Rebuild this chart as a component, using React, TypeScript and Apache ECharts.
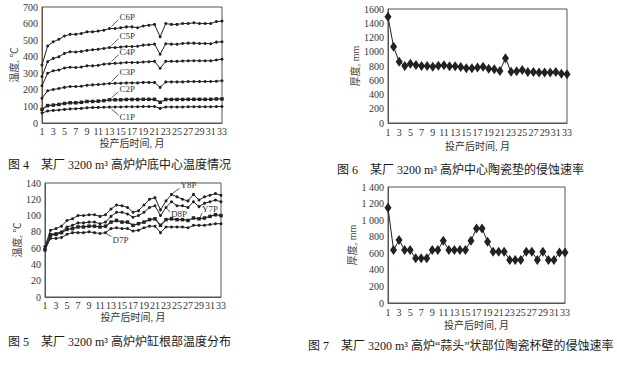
import React, { useEffect, useRef } from "react";
import * as echarts from "echarts";

const months = ["1","2","3","4","5","6","7","8","9","10","11","12","13","14","15","16","17","18","19","20","21","22","23","24","25","26","27","28","29","30","31","32","33"];

// 图4 炉底中心温度 (℃)
const c6p = [350, 465, 490, 505, 525, 535, 535, 540, 550, 550, 555, 560, 570, 570, 575, 580, 580, 575, 585, 590, 595, 520, 600, 595, 595, 600, 600, 605, 600, 600, 600, 612, 615];
const c5p = [280, 370, 390, 400, 420, 430, 428, 432, 438, 442, 445, 450, 455, 455, 458, 462, 462, 463, 470, 472, 476, 415, 478, 476, 475, 480, 482, 482, 480, 480, 478, 488, 490];
const c4p = [225, 300, 315, 320, 332, 336, 335, 338, 345, 345, 348, 355, 358, 360, 362, 365, 365, 365, 368, 370, 372, 330, 372, 372, 372, 374, 375, 376, 375, 375, 375, 380, 385];
const c3p = [150, 195, 202, 208, 215, 220, 220, 222, 228, 230, 232, 235, 238, 240, 240, 242, 242, 242, 245, 245, 245, 215, 248, 248, 248, 248, 250, 250, 250, 250, 250, 252, 255];
const c2p = [82, 105, 108, 112, 118, 122, 122, 125, 130, 130, 132, 135, 140, 140, 140, 142, 142, 142, 143, 143, 143, 125, 142, 142, 142, 142, 143, 143, 143, 143, 143, 145, 145];
const c1p = [60, 72, 76, 78, 82, 85, 86, 88, 92, 93, 94, 95, 96, 97, 97, 98, 98, 98, 99, 99, 100, 88, 97, 97, 97, 97, 98, 98, 98, 98, 98, 99, 100];

// 图5 炉缸根部温度 (℃)
const y8p = [62, 82, 84, 87, 94, 96, 100, 100, 101, 101, 99, 101, 108, 113, 112, 110, 104, 106, 113, 120, 122, 107, 118, 126, 123, 120, 118, 126, 119, 123, 125, 127, 125];
const d8p = [62, 77, 78, 80, 86, 88, 91, 91, 92, 92, 90, 92, 99, 104, 104, 102, 98, 100, 104, 110, 112, 100, 110, 117, 112, 112, 110, 117, 111, 115, 117, 119, 117];
const y7p = [58, 76, 77, 79, 83, 84, 86, 86, 87, 87, 86, 87, 92, 94, 92, 92, 88, 90, 92, 95, 96, 88, 95, 96, 95, 95, 94, 97, 96, 97, 99, 101, 100];
const d7p = [58, 72, 72, 73, 77, 79, 79, 79, 80, 79, 78, 79, 84, 85, 84, 84, 81, 82, 85, 87, 87, 79, 86, 86, 86, 86, 85, 88, 88, 88, 89, 90, 90];

// 图6 中心陶瓷垫厚度 (mm)
const padThickness = [1490, 1070, 860, 800, 830, 815, 800, 800, 790, 805, 810, 795, 795, 785, 770, 770, 780, 790, 760, 755, 730, 910, 720, 725, 745, 715, 715, 710, 710, 710, 715, 690, 685];

// 图7 "蒜头"状部位陶瓷杯壁厚度 (mm)
const cupThickness = [1150, 640, 760, 640, 640, 540, 540, 540, 640, 640, 750, 640, 640, 640, 640, 750, 900, 900, 740, 620, 620, 620, 520, 520, 520, 620, 620, 520, 620, 520, 520, 610, 610];

const captions = [
  "图 4　某厂 3200 m³ 高炉炉底中心温度情况",
  "图 5　某厂 3200 m³ 高炉炉缸根部温度分布",
  "图 6　某厂 3200 m³ 高炉中心陶瓷垫的侵蚀速率",
  "图 7　某厂 3200 m³ 高炉“蒜头”状部位陶瓷杯壁的侵蚀速率",
];

const LAT = "'Liberation Serif', 'Noto Sans CJK SC', serif";
const CJK = "'Liberation Serif', 'Noto Sans CJK SC', serif";
const INK = "#222";

export default function App() {
  const ref = useRef<HTMLDivElement>(null);
  useEffect(() => {
    if (!ref.current) return;
    const chart = echarts.init(ref.current, null, { renderer: "svg" });

    const grids = [
      { left: 42, top: 7, width: 180, height: 116 },
      { left: 45, top: 183, width: 176, height: 114 },
      { left: 388, top: 9, width: 179, height: 114 },
      { left: 388, top: 187, width: 177, height: 116 },
    ].map((g) => ({ ...g, show: true, borderColor: "#555", borderWidth: 1, backgroundColor: "transparent" }));

    const xNameGaps = [15, 15, 18, 17];
    const xLabelMargins = [3, 3, 4, 4];
    const xAxes = grids.map((_, i) => ({
      type: "category",
      gridIndex: i,
      data: months,
      boundaryGap: false,
      name: "投产后时间, 月",
      nameLocation: "middle",
      nameGap: xNameGaps[i],
      nameTextStyle: { fontFamily: CJK, fontSize: 10, color: "#333" },
      axisLine: { lineStyle: { color: "#555" } },
      axisTick: { show: false },
      axisLabel: { interval: 1, margin: xLabelMargins[i], fontFamily: LAT, fontSize: 10, color: "#333" },
      splitLine: { show: false },
    }));

    const yConf = [
      { max: 700, interval: 100, name: "温度, ℃", gap: 17 },
      { max: 140, interval: 20, name: "温度, ℃", gap: 17 },
      { max: 1600, interval: 200, name: "厚度, mm", gap: 25 },
      { max: 1400, interval: 200, name: "厚度, mm", gap: 25 },
    ];
    const yAxes = yConf.map((c, i) => ({
      type: "value",
      gridIndex: i,
      min: 0,
      max: c.max,
      interval: c.interval,
      name: c.name,
      nameLocation: "middle",
      nameRotate: 90,
      nameGap: c.gap,
      nameTextStyle: { fontFamily: CJK, fontSize: 10, color: "#444" },
      axisLine: { show: true, lineStyle: { color: "#555" } },
      axisTick: { show: false },
      axisLabel: {
        margin: 4,
        fontFamily: LAT,
        fontSize: 10,
        color: "#333",
        formatter: i === 3
          ? (v: number) => (v >= 1000 ? `${Math.floor(v / 1000)} ${String(v % 1000).padStart(3, "0")}` : String(v))
          : (v: number) => String(v),
      },
      splitLine: { show: false },
    }));

    const line = (name: string, data: number[], grid: number, symbol: string, size: any, width = 1) => ({
      type: "line",
      name,
      xAxisIndex: grid,
      yAxisIndex: grid,
      data,
      symbol,
      symbolSize: size,
      showSymbol: true,
      showAllSymbol: true,
      lineStyle: { color: INK, width },
      itemStyle: { color: INK },
      silent: true,
    });

    const series = [
      line("C6P", c6p, 0, "circle", 3),
      line("C5P", c5p, 0, "circle", 3),
      line("C4P", c4p, 0, "circle", 3),
      line("C3P", c3p, 0, "circle", 3),
      line("C2P", c2p, 0, "rect", 3.5, 1.2),
      line("C1P", c1p, 0, "circle", 3),
      line("Y8P", y8p, 1, "circle", 3),
      line("D8P", d8p, 1, "circle", 3),
      line("Y7P", y7p, 1, "rect", 3.5, 1.2),
      line("D7P", d7p, 1, "circle", 3),
      line("厚度", padThickness, 2, "diamond", [7, 10]),
      line("厚度", cupThickness, 3, "diamond", [7, 10]),
    ];

    chart.setOption({
      animation: false,
      backgroundColor: "#fff",
      grid: grids,
      xAxis: xAxes,
      yAxis: yAxes,
      series,
    });

    // series labels with leader lines, anchored to data points
    // [grid, label, data, index, leaderStart dx,dy, leaderEnd dx,dy, text dx,dy]
    const notes: [number, string, number[], number, number, number, number, number, number, number][] = [
      [0, "C6P", c6p, 12, 2, -2, 9, -9, 10, -12],
      [0, "C5P", c5p, 12, 2, -2, 9, -9, 10, -12],
      [0, "C4P", c4p, 12, 2, -2, 9, -9, 10, -12],
      [0, "C3P", c3p, 12, 2, -2, 9, -9, 10, -12],
      [0, "C2P", c2p, 12, 2, -2, 9, -8, 10, -11],
      [0, "C1P", c1p, 12, 2, 2, 9, 8, 10, 10],
      [1, "Y8P", y8p, 23, 1, -1, 8, -6, 9, -9],
      [1, "D8P", d8p, 22, 1, 1, 4, 5, 5, 7],
      [1, "Y7P", y7p, 28, 1, -1, 3, -6, 3, -10],
      [1, "D7P", d7p, 11, 1, 1, 6, 4, 7, 7],
    ];
    const graphic: any[] = [];
    notes.forEach(([g, label, data, idx, sx, sy, ex, ey, tx, ty]) => {
      const p = chart.convertToPixel({ gridIndex: g } as any, [idx, data[idx]]) as number[];
      if (!p) return;
      graphic.push({
        type: "line",
        silent: true,
        shape: { x1: p[0] + sx, y1: p[1] + sy, x2: p[0] + ex, y2: p[1] + ey },
        style: { stroke: "#333", lineWidth: 0.8 },
      });
      graphic.push({
        type: "text",
        silent: true,
        x: p[0] + tx,
        y: p[1] + ty,
        style: {
          text: label,
          fill: "#333",
          font: `9px ${LAT}`,
          textAlign: "left",
          textVerticalAlign: "middle",
          align: "left",
          verticalAlign: "middle",
        },
      });
    });

    const capPos = [
      [8, 165],
      [8, 342],
      [337, 170],
      [308, 346],
    ];
    captions.forEach((c, i) => {
      graphic.push({
        type: "text",
        silent: true,
        x: capPos[i][0],
        y: capPos[i][1],
        style: {
          text: c,
          fill: "#1a1a1a",
          font: `12px ${CJK}`,
          textAlign: "left",
          textVerticalAlign: "middle",
          align: "left",
          verticalAlign: "middle",
        },
      });
    });

    chart.setOption({ graphic });

    return () => chart.dispose();
  }, []);

  return (
    <div
      ref={ref}
      style={{ position: "absolute", left: 0, top: 0, width: 617, height: 365, background: "#fff" }}
    />
  );
}
